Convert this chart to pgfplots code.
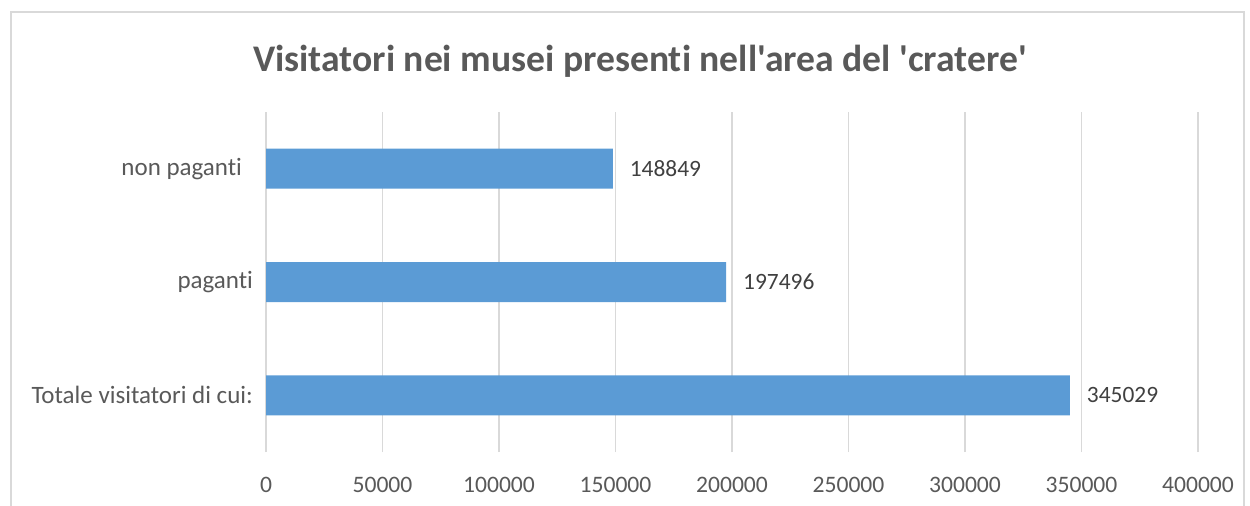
\documentclass[border=0pt]{standalone}
\usepackage{pgfplots}
\pgfplotsset{compat=1.18}
\usepackage{fontspec}
\setmainfont[Ligatures={NoCommon,TeXOff}]{Carlito}
\definecolor{barblue}{HTML}{5B9BD5}
\definecolor{gridgray}{HTML}{D9D9D9}
\definecolor{txtgray}{HTML}{595959}
\definecolor{lblgray}{HTML}{404040}
\begin{document}
\begin{tikzpicture}
\useasboundingbox (0,0) rectangle (625bp,-253bp);
\draw[gridgray, line width=0.75bp] (5.5bp,-260bp) -- (5.5bp,-6bp) -- (622bp,-6bp) -- (622bp,-260bp);
\node[font=\fontsize{18.8bp}{21bp}\selectfont\bfseries, text=txtgray] at (320bp,-30.5bp) {Visitatori nei musei presenti nell'area del 'cratere'};
\begin{axis}[
  at={(133bp,-226bp)}, anchor=south west,
  scale only axis, width=466bp, height=170bp,
  xbar, bar width=20bp,
  xmin=0, xmax=400000, ymin=-0.5, ymax=2.5,
  xtick={0,50000,...,400000},
  ytick={0,1,2},
  yticklabels={Totale visitatori di cui:, paganti, non paganti\rule{5.5bp}{0pt}},
  xmajorgrids, major grid style={gridgray, line width=0.75bp},
  axis line style={draw=none},
  major tick length=0pt,
  scaled x ticks=false,
  xticklabel style={/pgf/number format/fixed, /pgf/number format/1000 sep={}, /pgf/number format/assume math mode=true, font=\fontsize{11.8bp}{13bp}\selectfont, text=txtgray, yshift=-9bp},
  yticklabel style={font=\fontsize{12.5bp}{14bp}\selectfont, text=txtgray, xshift=-3bp},
  nodes near coords,
  nodes near coords style={font=\fontsize{11.7bp}{13bp}\selectfont, text=lblgray, /pgf/number format/fixed, /pgf/number format/1000 sep={}, /pgf/number format/assume math mode=true, xshift=5bp},
  clip=false,
]
\addplot[fill=barblue, draw=none] coordinates {(345029,0) (197496,1) (148849,2)};
\end{axis}
\end{tikzpicture}
\end{document}
